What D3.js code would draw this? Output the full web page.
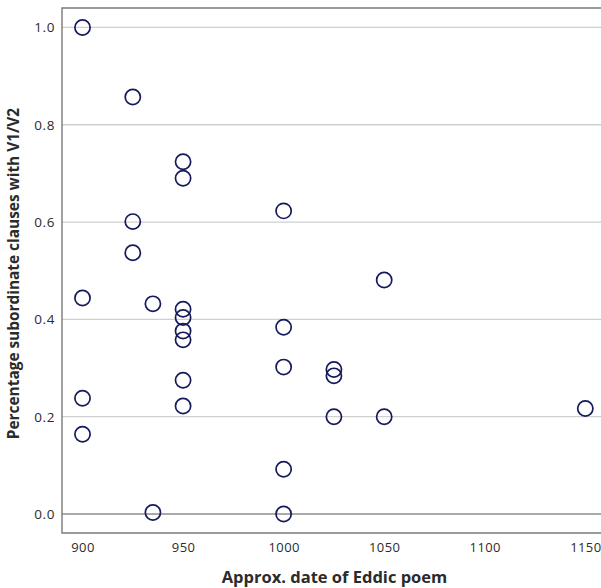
<!DOCTYPE html>
<html>
<head>
<meta charset="utf-8">
<script src="https://cdn.jsdelivr.net/npm/d3@7"></script>
<style>
  html, body { margin: 0; padding: 0; background: #fff; }
  svg { display: block; }
  text { font-family: "Open Sans", "Noto Sans", sans-serif; fill: #2b2b2b; }
</style>
</head>
<body>
<svg id="chart" width="601" height="588"></svg>
<script>
// Approximate composition date of each Eddic poem
const dates = [900, 925, 950, 950, 925, 925, 1000, 1050, 900, 935,
               950, 950, 950, 950, 1000, 950, 1000, 1025, 1025, 900,
               950, 1025, 1050, 1150, 900, 1000, 935, 1000];
// Share of subordinate clauses showing V1/V2 order
const shares = [1.0, 0.857, 0.724, 0.690, 0.601, 0.537, 0.623, 0.481, 0.444, 0.432,
                0.421, 0.404, 0.376, 0.358, 0.384, 0.275, 0.302, 0.297, 0.284, 0.238,
                0.222, 0.200, 0.200, 0.217, 0.164, 0.092, 0.003, 0.0];
const xTicks = [900, 950, 1000, 1050, 1100, 1150];
const yTicks = [0.0, 0.2, 0.4, 0.6, 0.8, 1.0];

const points = dates.map((d, i) => ({ date: d, share: shares[i] }));

const svg = d3.select("#chart");
const plotLeft = 62, plotRight = 601, plotTop = 8, plotBottom = 533;

const x = d3.scaleLinear().domain([889.8, 1157.8]).range([plotLeft, plotRight]);
const y = d3.scaleLinear().domain([-0.039, 1.040]).range([plotBottom, plotTop]);

// horizontal gridlines
svg.append("g")
  .selectAll("line")
  .data(yTicks)
  .join("line")
  .attr("x1", plotLeft).attr("x2", plotRight)
  .attr("y1", d => y(d)).attr("y2", d => y(d))
  .attr("stroke", d => d === 0 ? "#555" : "#cfcfcf")
  .attr("stroke-width", d => d === 0 ? 1.2 : 1.3);

// frame
svg.append("path")
  .attr("d", `M${plotRight},${plotTop}H${plotLeft}V${plotBottom}H${plotRight}`)
  .attr("fill", "none")
  .attr("stroke", "#7a7a7a")
  .attr("stroke-width", 1.4);

// axes (labels only)
const yAxis = svg.append("g")
  .attr("transform", `translate(${plotLeft},0)`)
  .call(d3.axisLeft(y).tickValues(yTicks).tickFormat(d3.format(".1f")).tickSize(0).tickPadding(7));
yAxis.select(".domain").remove();
yAxis.selectAll("text")
  .style("font-size", "13.5px")
  .style("letter-spacing", "0.6px")
  .attr("fill", "#2b2b2b");

const xAxis = svg.append("g")
  .attr("transform", `translate(0,${plotBottom})`)
  .call(d3.axisBottom(x).tickValues(xTicks).tickFormat(d3.format("d")).tickSize(0).tickPadding(10));
xAxis.select(".domain").remove();
xAxis.selectAll("text")
  .style("font-size", "13px")
  .style("letter-spacing", "0.4px")
  .attr("fill", "#2b2b2b");

// points
svg.append("g")
  .selectAll("circle")
  .data(points)
  .join("circle")
  .attr("cx", d => x(d.date))
  .attr("cy", d => y(d.share))
  .attr("r", 7.6)
  .attr("fill", "none")
  .attr("stroke", "#141a5c")
  .attr("stroke-width", 1.7);

// axis titles
svg.append("text")
  .attr("x", (plotLeft + plotRight) / 2 + 3)
  .attr("y", 583)
  .attr("text-anchor", "middle")
  .style("font-size", "16.5px")
  .style("font-weight", "bold")
  .text("Approx. date of Eddic poem");

svg.append("text")
  .attr("transform", `translate(19,273.5) rotate(-90)`)
  .attr("text-anchor", "middle")
  .style("font-size", "15.4px")
  .style("font-weight", "bold")
  .text("Percentage subordinate clauses with V1/V2");
</script>
</body>
</html>
